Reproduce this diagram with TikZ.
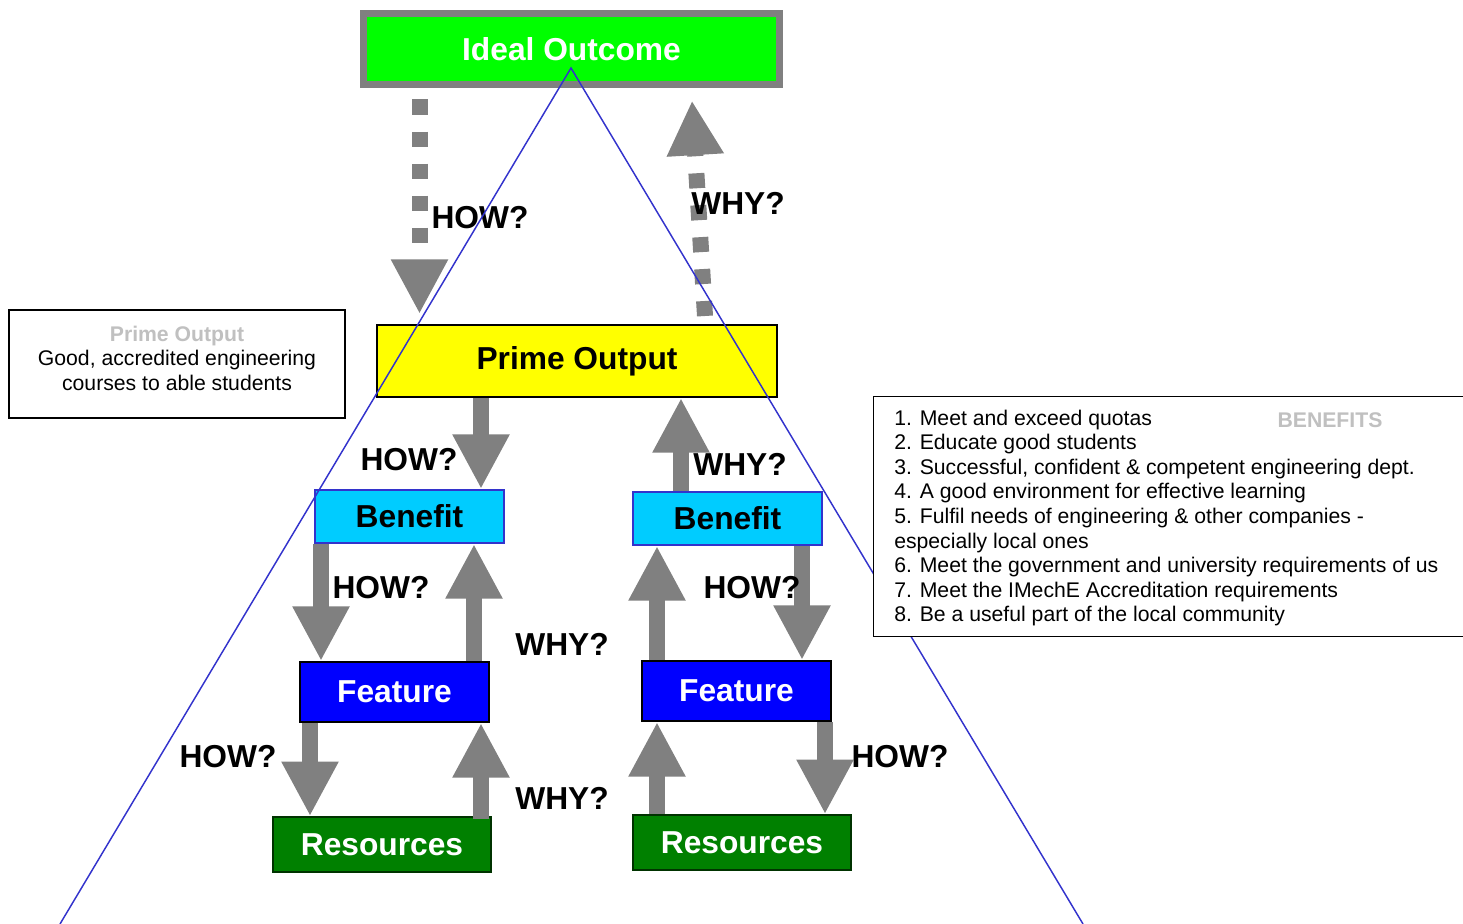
\documentclass[tikz,border=0pt]{standalone}
\usepackage{fontspec}
\setmainfont{Liberation Sans}
\usetikzlibrary{arrows.meta,calc}
\definecolor{iogreen}{RGB}{0,255,0}
\definecolor{poyellow}{RGB}{255,255,0}
\definecolor{bcyan}{RGB}{0,204,255}
\definecolor{bborder}{RGB}{51,51,204}
\definecolor{fblue}{RGB}{0,0,255}
\definecolor{rgreen}{RGB}{0,128,0}
\definecolor{agray}{RGB}{128,128,128}
\definecolor{lgray}{RGB}{192,192,192}
\definecolor{tline}{RGB}{51,51,204}
\tikzset{
  bigfont/.style={font=\fontsize{23.8}{28}\selectfont\bfseries},
  smallfont/.style={font=\fontsize{15.9}{18.4}\selectfont},
  boxnode/.style={rectangle, inner sep=0pt, bigfont},
  lbl/.style={inner sep=0pt, bigfont, text=black},
  bigarrow/.style={draw=agray, line width=12pt, -{Triangle[length=41pt,width=40pt]}, agray},
  dasharrow/.style={bigarrow, dash pattern=on 11.25pt off 12.75pt},
  tri/.style={draw=tline, line width=1.1pt},
}
\begin{document}
\begin{tikzpicture}[x=0.75pt,y=-0.75pt]
\useasboundingbox (0,0) rectangle (1463,924);
% boxes
\node[boxnode, draw=agray, line width=5.25pt, fill=iogreen, text=white, minimum width=312pt, minimum height=53.25pt] (io) at (571.5,49) {Ideal Outcome};
\node[boxnode, draw=black, line width=1.5pt, fill=poyellow, text=black, minimum width=300pt, minimum height=54pt] (po) at (577,361) {Prime Output};
\node[boxnode, draw=bborder, line width=1.5pt, fill=bcyan, text=black, minimum width=141.75pt, minimum height=39.75pt] (lb) at (409.5,516.5) {Benefit};
\node[boxnode, draw=bborder, line width=1.5pt, fill=bcyan, text=black, minimum width=141.75pt, minimum height=39.75pt] (rb) at (727.5,518.5) {Benefit};
\node[boxnode, draw=black, line width=1.5pt, fill=fblue, text=white, minimum width=141.75pt, minimum height=45pt] (lf) at (394.5,692) {Feature};
\node[boxnode, draw=black, line width=1.5pt, fill=fblue, text=white, minimum width=141.75pt, minimum height=45pt] (rf) at (736.5,691) {Feature};
\node[boxnode, draw=black!60!rgreen, line width=1.2pt, fill=rgreen, text=white, minimum width=163.5pt, minimum height=41.25pt] (lr) at (382,844.5) {Resources};
\node[boxnode, draw=black!60!rgreen, line width=1.2pt, fill=rgreen, text=white, minimum width=163.5pt, minimum height=41.25pt] (rr) at (742,842.5) {Resources};
% left text box
\node[draw=black, line width=1.1pt, fill=white, minimum width=252pt, minimum height=81pt, inner sep=0pt] (ltb) at (177,364) {};
\node[smallfont, align=center, inner sep=0pt] (ltt) at (177,358) {{\color{lgray}\bfseries Prime Output}\\Good, accredited engineering\\courses to able students};
% arrows
\draw[dasharrow] ($(io.south)+(-152,11.5)$) -- ($(po.north)+(-157.5,-10)$);
\draw[dasharrow] ($(po.north)+(128,-8)$) -- ($(io.south)+(120.5,12.5)$);
\draw[bigarrow] ($(po.south)+(-96,0)$) -- ($(lb.north)+(71.5,0)$);
\draw[bigarrow] ($(rb.north)+(-46.5,0)$) -- ($(po.south)+(104,0)$);
\draw[bigarrow] ($(lb.south)+(-88.5,0)$) -- ($(lf.north)+(-73.5,0)$);
\draw[bigarrow] ($(lf.north)+(79.5,0)$) -- ($(lb.south)+(64.5,0)$);
\draw[bigarrow] ($(rb.south)+(74.5,0)$) -- ($(rf.north)+(65.5,0)$);
\draw[bigarrow] ($(rf.north)+(-79.5,0)$) -- ($(rb.south)+(-70.5,0)$);
\draw[bigarrow] ($(lf.south)+(-84.5,0)$) -- ($(lr.north)+(-72,0)$);
\draw[bigarrow] ($(lr.north)+(99,3)$) -- ($(lf.south)+(86.5,0)$);
\draw[bigarrow] ($(rr.north)+(-85,0)$) -- ($(rf.south)+(-79.5,0)$);
\draw[bigarrow] ($(rf.south)+(88.5,0)$) -- ($(rr.north)+(83,0)$);
% labels
\node[lbl] (h1) at (480,218) {HOW?};
\node[lbl] (w1) at (738,203) {WHY?};
\node[lbl] (h2) at (409,460) {HOW?};
\node[lbl] (w2) at (740,464) {WHY?};
\node[lbl] (h3) at (381,588) {HOW?};
\node[lbl] (h4) at (752,588) {HOW?};
\node[lbl] (w3) at (562,644) {WHY?};
\node[lbl] (h5) at (228,757) {HOW?};
\node[lbl] (h6) at (900,757) {HOW?};
\node[lbl] (w4) at (562,798) {WHY?};
% triangle lines
\coordinate (apex) at (571,68);
\coordinate (bl) at (60,924);
\coordinate (br) at (1083,924);
\draw[tri] (bl) -- (apex) -- (br);
% right text box
\node[draw=black, line width=1.1pt, fill=white, minimum width=447pt, minimum height=180pt, inner sep=0pt, anchor=north west] (rtb) at (873,396) {};
\node[smallfont, align=left, inner sep=0pt, anchor=west] (rtt) at (894,518) {1. Meet and exceed quotas\\2. Educate good students\\3. Successful, confident \& competent engineering dept.\\4. A good environment for effective learning\\5. Fulfil needs of engineering \& other companies -\\especially local ones\\6. Meet the government and university requirements of us\\7. Meet the IMechE Accreditation requirements\\8. Be a useful part of the local community};
\node[smallfont, font=\fontsize{15.9}{18.4}\selectfont\bfseries, text=lgray, inner sep=0pt] (ben) at (1330,420) {BENEFITS};
\end{tikzpicture}
\end{document}
